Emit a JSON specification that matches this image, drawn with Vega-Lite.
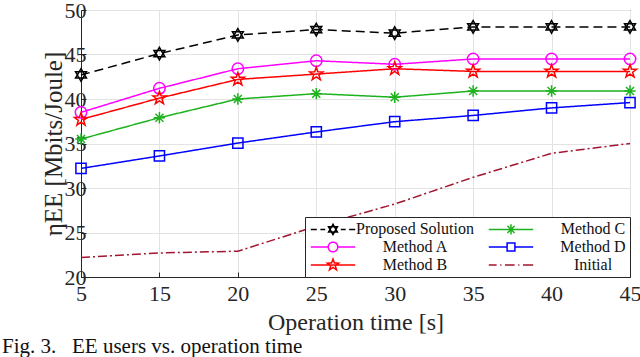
{
  "$schema": "https://vega.github.io/schema/vega-lite/v6.json",
  "autosize": {"type": "none"},
  "width": 549,
  "height": 267,
  "padding": {"left": 81, "top": 10, "right": 10, "bottom": 80},
  "background": "white",
  "title": {
    "text": "Fig. 3.\u00a0\u00a0\u00a0EE users vs. operation time",
    "orient": "bottom",
    "anchor": "start",
    "frame": "group",
    "dx": -79,
    "offset": 2,
    "font": "Liberation Serif",
    "fontSize": 21,
    "fontWeight": "normal",
    "color": "#111"
  },
  "data": {
    "values": [
      {"t": 5, "series": "Proposed Solution", "v": 42.7},
      {"t": 15, "series": "Proposed Solution", "v": 45.1},
      {"t": 20, "series": "Proposed Solution", "v": 47.2},
      {"t": 25, "series": "Proposed Solution", "v": 47.8},
      {"t": 30, "series": "Proposed Solution", "v": 47.4},
      {"t": 35, "series": "Proposed Solution", "v": 48.1},
      {"t": 40, "series": "Proposed Solution", "v": 48.1},
      {"t": 45, "series": "Proposed Solution", "v": 48.1},
      {"t": 5, "series": "Method A", "v": 38.5},
      {"t": 15, "series": "Method A", "v": 41.2},
      {"t": 20, "series": "Method A", "v": 43.4},
      {"t": 25, "series": "Method A", "v": 44.3},
      {"t": 30, "series": "Method A", "v": 43.9},
      {"t": 35, "series": "Method A", "v": 44.5},
      {"t": 40, "series": "Method A", "v": 44.5},
      {"t": 45, "series": "Method A", "v": 44.5},
      {"t": 5, "series": "Method B", "v": 37.7},
      {"t": 15, "series": "Method B", "v": 40.1},
      {"t": 20, "series": "Method B", "v": 42.2},
      {"t": 25, "series": "Method B", "v": 42.8},
      {"t": 30, "series": "Method B", "v": 43.4},
      {"t": 35, "series": "Method B", "v": 43.1},
      {"t": 40, "series": "Method B", "v": 43.1},
      {"t": 45, "series": "Method B", "v": 43.1},
      {"t": 5, "series": "Method C", "v": 35.5},
      {"t": 15, "series": "Method C", "v": 37.9},
      {"t": 20, "series": "Method C", "v": 40.0},
      {"t": 25, "series": "Method C", "v": 40.6},
      {"t": 30, "series": "Method C", "v": 40.2},
      {"t": 35, "series": "Method C", "v": 40.9},
      {"t": 40, "series": "Method C", "v": 40.9},
      {"t": 45, "series": "Method C", "v": 40.9},
      {"t": 5, "series": "Method D", "v": 32.2},
      {"t": 15, "series": "Method D", "v": 33.6},
      {"t": 20, "series": "Method D", "v": 35.05},
      {"t": 25, "series": "Method D", "v": 36.3},
      {"t": 30, "series": "Method D", "v": 37.45},
      {"t": 35, "series": "Method D", "v": 38.15},
      {"t": 40, "series": "Method D", "v": 39.0},
      {"t": 45, "series": "Method D", "v": 39.6},
      {"t": 5, "series": "Initial", "v": 22.2},
      {"t": 15, "series": "Initial", "v": 22.7},
      {"t": 20, "series": "Initial", "v": 22.9},
      {"t": 25, "series": "Initial", "v": 25.7},
      {"t": 30, "series": "Initial", "v": 28.2},
      {"t": 35, "series": "Initial", "v": 31.2},
      {"t": 40, "series": "Initial", "v": 33.9},
      {"t": 45, "series": "Initial", "v": 35.0}
    ]
  },
  "encoding": {
    "x": {
      "field": "t",
      "type": "ordinal",
      "scale": {"type": "point", "padding": 0},
      "axis": {
        "title": "Operation time [s]",
        "labelAngle": 0,
        "grid": true,
        "gridColor": "#e3e3e3",
        "labelFont": "Liberation Serif",
        "labelFontSize": 22,
        "labelColor": "#262626",
        "labelPadding": 11,
        "titleFont": "Liberation Serif",
        "titleFontSize": 24,
        "titleFontWeight": "normal",
        "titleColor": "#262626",
        "titlePadding": 6,
        "domainColor": "#262626",
        "tickColor": "#262626",
        "tickSize": -5
      }
    },
    "y": {
      "field": "v",
      "type": "quantitative",
      "scale": {"domain": [20, 50], "nice": false, "zero": false},
      "axis": {
        "title": "ηEE [Mbits/Joule]",
        "values": [20, 25, 30, 35, 40, 45, 50],
        "grid": true,
        "gridColor": "#e3e3e3",
        "labelFont": "Liberation Serif",
        "labelFontSize": 22,
        "labelColor": "#262626",
        "labelPadding": 0,
        "titleFont": "Liberation Serif",
        "titleFontSize": 25,
        "titleFontWeight": "normal",
        "titleColor": "#262626",
        "titlePadding": -2,
        "domainColor": "#262626",
        "tickColor": "#262626",
        "tickSize": -5
      }
    },
    "color": {
      "field": "series",
      "type": "nominal",
      "scale": {
        "domain": ["Proposed Solution", "Method A", "Method B", "Method C", "Method D", "Initial"],
        "range": ["#000000", "#ff00ff", "#ff0000", "#1db31d", "#0000ff", "#a2142f"]
      }
    }
  },
  "layer": [
    {
      "mark": {"type": "line", "strokeWidth": 1.5},
      "encoding": {
        "strokeDash": {
          "field": "series",
          "type": "nominal",
          "scale": {
            "domain": ["Initial", "Proposed Solution", "Method A", "Method B", "Method C", "Method D"],
            "range": [[9, 3, 2, 3], [9, 5], [1, 0], [1, 0], [1, 0], [1, 0]]
          },
          "legend": null
        }
      }
    },
    {
      "transform": [{"filter": "datum.series === 'Proposed Solution'"}],
      "mark": {"type": "point", "filled": false, "size": 144, "strokeWidth": 1.5, "opacity": 1, "shape": "M0,-1.05L0.909,0.525L-0.909,0.525ZM0,1.05L0.909,-0.525L-0.909,-0.525Z"}
    },
    {
      "transform": [{"filter": "datum.series === 'Method A'"}],
      "mark": {"type": "point", "filled": false, "size": 144, "strokeWidth": 1.5, "opacity": 1, "shape": "M0.95,0A0.95,0.95 0 1,1 -0.95,0A0.95,0.95 0 1,1 0.95,0Z"}
    },
    {
      "transform": [{"filter": "datum.series === 'Method B'"}],
      "mark": {"type": "point", "filled": false, "size": 144, "strokeWidth": 1.5, "opacity": 1, "shape": "M0,-1.15L0.27,-0.373L1.094,-0.355L0.437,0.143L0.676,0.93L0,0.46L-0.676,0.93L-0.437,0.143L-1.094,-0.355L-0.27,-0.373Z"}
    },
    {
      "transform": [{"filter": "datum.series === 'Method C'"}],
      "mark": {"type": "point", "filled": false, "size": 144, "strokeWidth": 1.5, "opacity": 1, "shape": "M-0.95,0H0.95M0,-0.95V0.95M-0.67,-0.67L0.67,0.67M-0.67,0.67L0.67,-0.67"}
    },
    {
      "transform": [{"filter": "datum.series === 'Method D'"}],
      "mark": {"type": "point", "filled": false, "size": 144, "strokeWidth": 1.5, "opacity": 1, "shape": "M-0.85,-0.85H0.85V0.85H-0.85Z"}
    },
    {
      "transform": [{"filter": "false"}],
      "mark": {"type": "point", "filled": false, "size": 144, "strokeWidth": 1.5, "opacity": 1},
      "encoding": {
        "shape": {
          "field": "series",
          "type": "nominal",
          "scale": {
            "domain": ["Proposed Solution", "Method A", "Method B", "Method C", "Method D", "Initial"],
            "range": [
              "M-3.7,0H-2.7M-2.1,0H-1.3M1.3,0H2.1M2.7,0H3.7M0,-0.85L0.74,0.43L-0.74,0.43ZM0,0.85L0.74,-0.43L-0.74,-0.43Z",
              "M-3.7,0H-0.8M0.8,0H3.7M0.8,0A0.8,0.8 0 1,1 -0.8,0A0.8,0.8 0 1,1 0.8,0Z",
              "M-3.7,0H3.7M0,-1L0.235,-0.324L0.951,-0.309L0.38,0.124L0.588,0.809L0,0.4L-0.588,0.809L-0.38,0.124L-0.951,-0.309L-0.235,-0.324Z",
              "M-3.7,0H3.7M0,-0.85V0.85M-0.6,-0.6L0.6,0.6M-0.6,0.6L0.6,-0.6",
              "M-3.7,0H-0.65M0.65,0H3.7M-0.65,-0.65H0.65V0.65H-0.65Z",
              "M-3.7,0H-2.4M-1.8,0H-1.6M-1.0,0H0.6M1.2,0H1.4M2.0,0H3.7"
            ]
          }
        }
      }
    }
  ],
  "config": {
    "view": {"stroke": "#262626", "strokeWidth": 1},
    "legend": {
      "orient": "bottom-right",
      "offset": 0,
      "columns": 2,
      "title": null,
      "strokeColor": "#262626",
      "fillColor": "white",
      "padding": 4,
      "rowPadding": 1,
      "columnPadding": 11,
      "labelFont": "Liberation Serif",
      "labelFontSize": 16,
      "labelColor": "#111",
      "labelAlign": "center",
      "labelOffset": 74,
      "labelLimit": 0,
      "symbolSize": 144,
      "symbolOffset": 16,
      "symbolOpacity": 1,
      "symbolStrokeWidth": 1.5,
      "symbolDash": [1, 0]
    }
  }
}
